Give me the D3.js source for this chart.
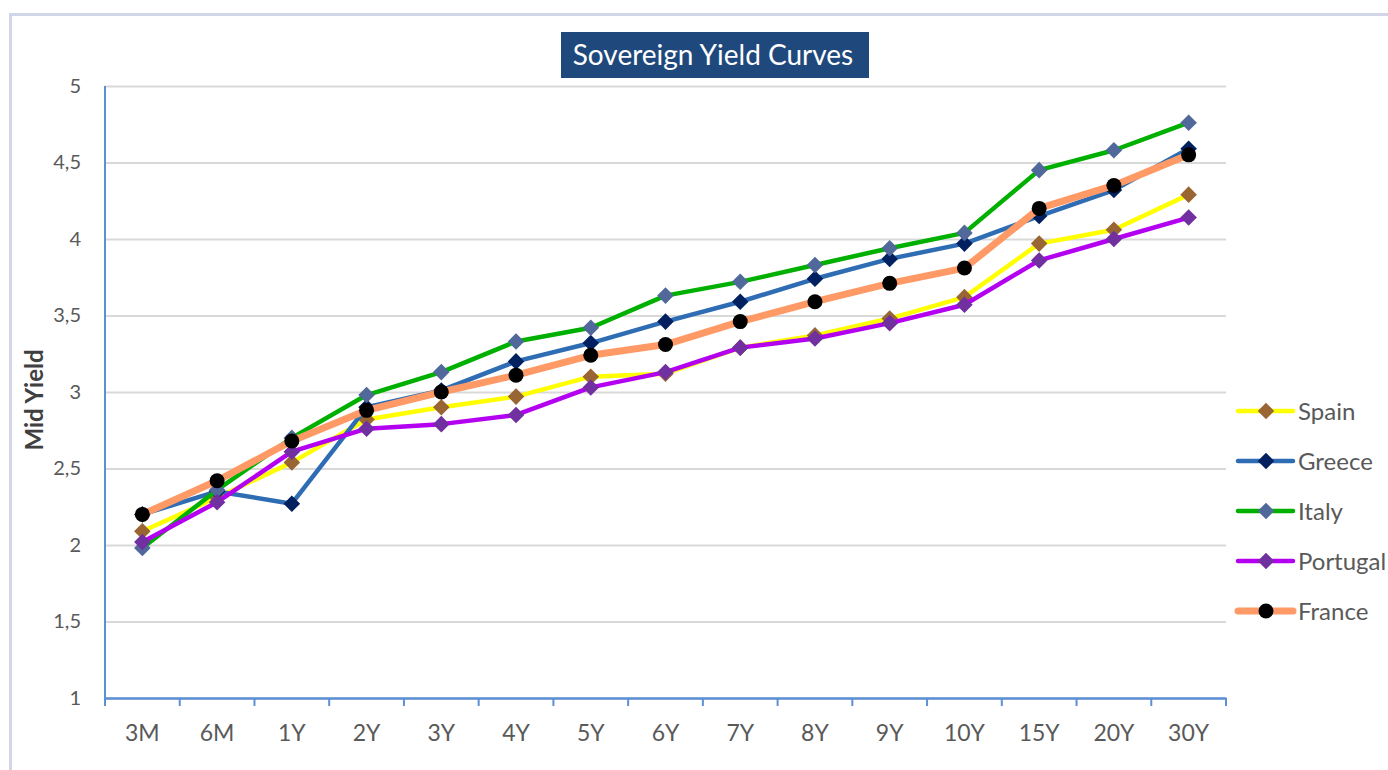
<!DOCTYPE html>
<html>
<head>
<meta charset="utf-8">
<script src="https://cdn.jsdelivr.net/npm/d3@7"></script>
<style>
  body { margin: 0; background: #fff; }
  text { font-family: Lato, "Noto Sans", sans-serif; }
</style>
</head>
<body>
<div id="chart"></div>
<script>
//Categories and values
var tenors = ["3M","6M","1Y","2Y","3Y","4Y","5Y","6Y","7Y","8Y","9Y","10Y","15Y","20Y","30Y"];
var spain    = [2.09,2.31,2.54,2.82,2.90,2.97,3.10,3.12,3.29,3.37,3.48,3.62,3.97,4.06,4.29];
var greece   = [2.20,2.35,2.27,2.90,3.01,3.20,3.32,3.46,3.59,3.74,3.87,3.97,4.15,4.32,4.59];
var italy    = [1.98,2.36,2.70,2.98,3.13,3.33,3.42,3.63,3.72,3.83,3.94,4.04,4.45,4.58,4.76];
var portugal = [2.02,2.28,2.61,2.76,2.79,2.85,3.03,3.13,3.29,3.35,3.45,3.57,3.86,4.00,4.14];
var france   = [2.20,2.42,2.68,2.88,3.00,3.11,3.24,3.31,3.46,3.59,3.71,3.81,4.20,4.35,4.55];
var yTicks = [1,1.5,2,2.5,3,3.5,4,4.5,5];
var seriesNames = ["Spain","Greece","Italy","Portugal","France"];

//Styles per series
var series = [
  {name: seriesNames[0], values: spain,    line: "#FFFF00", marker: "#996633", width: 4.5, shape: "diamond"},
  {name: seriesNames[1], values: greece,   line: "#2E6DB4", marker: "#002060", width: 4.5, shape: "diamond"},
  {name: seriesNames[2], values: italy,    line: "#00B000", marker: "#50689A", width: 4.5, shape: "diamond"},
  {name: seriesNames[3], values: portugal, line: "#B400F0", marker: "#7030A0", width: 4.5, shape: "diamond"},
  {name: seriesNames[4], values: france,   line: "#FF9966", marker: "#000000", width: 7,   shape: "circle"}
];

var W = 1388, H = 770,
    plotLeft = 105, plotRight = 1226, plotTop = 86, plotBottom = 698,
    axisColor = "#5B8FD6",
    labelColor = "#595959";

var svg = d3.select("#chart").append("svg")
    .attr("width", W)
    .attr("height", H);

//Outer frame of the chart
svg.append("rect")
    .attr("x", 10.5).attr("y", 14.5)
    .attr("width", W).attr("height", H)
    .style("fill", "none")
    .style("stroke", "#D0D6E8")
    .style("stroke-width", 3);

var x = d3.scaleBand().domain(tenors).range([plotLeft, plotRight]);
var y = d3.scaleLinear().domain([1, 5]).range([plotBottom, plotTop]);

//Gridlines + y labels
var yAxis = svg.append("g")
    .attr("transform", "translate(" + plotLeft + ",0)")
    .call(d3.axisLeft(y).tickValues(yTicks).tickSize(-(plotRight - plotLeft)).tickPadding(24)
        .tickFormat(function(d) { return String(d).replace(".", ","); }));
yAxis.select(".domain").remove();
yAxis.selectAll(".tick line").style("stroke", "#D9D9D9").style("stroke-width", 2);
yAxis.selectAll(".tick text")
    .style("font-size", "20px")
    .style("fill", labelColor);

svg.append("line")
    .attr("x1", plotLeft).attr("x2", plotLeft)
    .attr("y1", plotTop).attr("y2", plotBottom)
    .style("stroke", axisColor).style("stroke-width", 2);

//X axis
var xAxis = svg.append("g")
    .attr("transform", "translate(0," + plotBottom + ")")
    .call(d3.axisBottom(x).tickSize(0).tickPadding(27));
xAxis.select(".domain").style("stroke", axisColor).style("stroke-width", 2.5);
xAxis.selectAll(".tick text")
    .style("font-size", "23px")
    .style("fill", labelColor);

var bounds = tenors.map(function(t) { return x(t); }).concat([plotRight]);
svg.selectAll("line.xtick")
    .data(bounds).enter().append("line")
    .attr("class", "xtick")
    .attr("x1", function(d) { return d; })
    .attr("x2", function(d) { return d; })
    .attr("y1", plotBottom)
    .attr("y2", plotBottom + 8)
    .style("stroke", axisColor)
    .style("stroke-width", 2);

//Axis title
svg.append("text")
    .attr("transform", "translate(43,400) rotate(-90)")
    .attr("text-anchor", "middle")
    .style("font-size", "24px")
    .style("font-weight", "bold")
    .style("fill", "#404040")
    .text("Mid Yield");

//Lines and markers
var cx = function(d, i) { return x(tenors[i]) + x.bandwidth() / 2; };
var line = d3.line()
    .x(cx)
    .y(function(d) { return y(d); });

var diamond = d3.symbol().type(d3.symbolDiamond2).size(175);

function drawMarker(sel, s) {
  if (s.shape === "circle") {
    sel.append("circle").attr("r", 7.5).style("fill", s.marker);
  } else {
    sel.append("path").attr("d", diamond).style("fill", s.marker);
  }
}

series.forEach(function(s) {
  var g = svg.append("g").attr("class", "series");
  g.append("path")
    .datum(s.values)
    .attr("d", line)
    .style("fill", "none")
    .style("stroke", s.line)
    .style("stroke-width", s.width)
    .style("stroke-linejoin", "round");
  var m = g.selectAll("g.pt")
    .data(s.values).enter().append("g")
    .attr("class", "pt")
    .attr("transform", function(d, i) { return "translate(" + cx(d, i) + "," + y(d) + ")"; });
  drawMarker(m, s);
});

//Legend
var legend = svg.append("g").attr("class", "legend");
var item = legend.selectAll("g.item")
    .data(series).enter().append("g")
    .attr("class", "item")
    .attr("transform", function(d, i) { return "translate(1238," + (411 + i * 50) + ")"; });
item.append("line")
    .attr("x1", 0).attr("x2", 55)
    .style("stroke", function(d) { return d.line; })
    .style("stroke-width", function(d) { return d.shape === "circle" ? 7 : 4.5; })
    .style("stroke-linecap", "round");
item.each(function(d) {
  var mk = d3.select(this).append("g").attr("transform", "translate(28,0)");
  drawMarker(mk, d);
});
item.append("text")
    .attr("x", 60)
    .attr("dy", "0.36em")
    .style("font-size", "24px")
    .style("fill", labelColor)
    .text(function(d) { return d.name; });

//Title
svg.append("rect")
    .attr("x", 561).attr("y", 32)
    .attr("width", 308).attr("height", 46)
    .style("fill", "#1F497D");
svg.append("text")
    .attr("x", 713).attr("y", 65)
    .attr("text-anchor", "middle")
    .style("font-size", "28px")
    .style("fill", "#fff")
    .text("Sovereign Yield Curves");
</script>
</body>
</html>
